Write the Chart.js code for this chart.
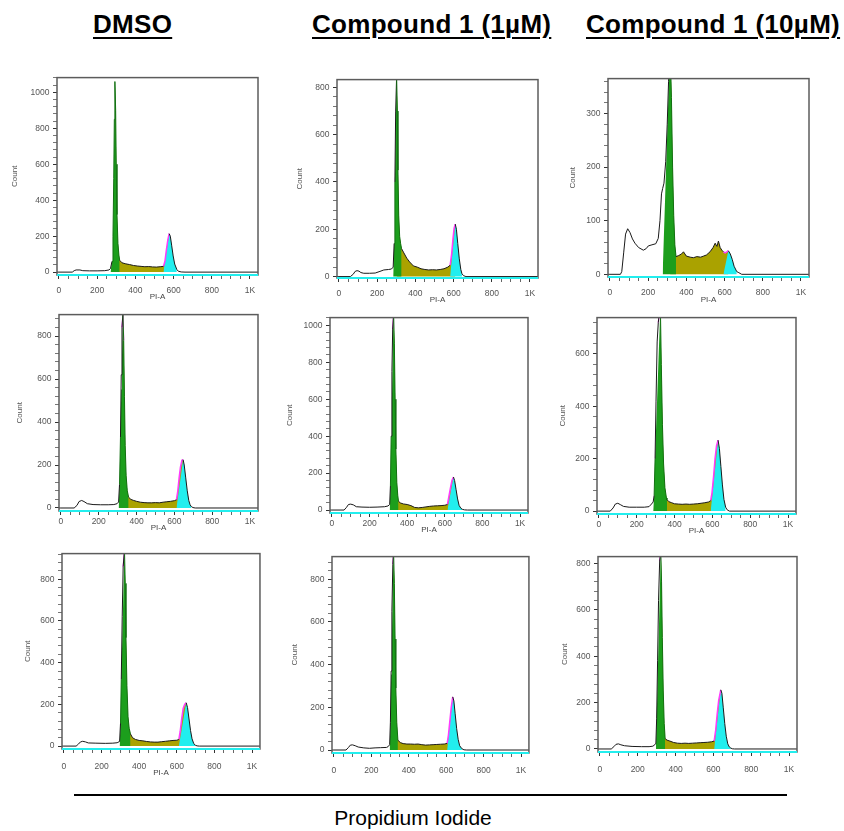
<!DOCTYPE html>
<html>
<head>
<meta charset="utf-8">
<script src="https://cdn.jsdelivr.net/npm/chart.js@4.4.1/dist/chart.umd.min.js"></script>
<style>
  body { margin: 0; background: #fff; }
  #page { position: relative; width: 844px; height: 831px; overflow: hidden; font-family: 'Liberation Sans', Arial, sans-serif; }
  .titre { position: absolute; top: 11px; font-weight: bold; font-size: 26px; line-height: 26px; white-space: nowrap; letter-spacing: 0.3px;
           text-decoration: underline; text-decoration-thickness: 2px; text-underline-offset: 4px; color: #000; }
  canvas { position: absolute; }
  #trait { position: absolute; left: 74px; top: 794px; width: 713px; height: 2px; background: #000; }
  #legende { position: absolute; left: 0; width: 826px; top: 807px; text-align: center; font-size: 21px; line-height: 21px; color: #000; }
</style>
</head>
<body>
<div id="page">
  <div id="trait"></div>
  <div id="legende">Propidium Iodide</div>
</div>
<script>
// Colonnes (conditions) et graduations de l'axe PI-A
const conditions = ['DMSO', 'Compound 1 (1µM)', 'Compound 1 (10µM)'];
const xTickValues = [0, 200, 400, 600, 800, 1000];
const xTickText = ['0', '200', '400', '600', '800', '1K'];

// Histogrammes (PI-A, Count), ligne par ligne
const dmsoR1 = [[-10,0],[0,0],[70,0],[80,8],[90,12],[110,12],[125,8],[160,7],[200,7],[240,8],[262,12],[270,20],
  [278,60],[283,200],[287,520],[290,850],[293,1060],[297,900],[300,600],[304,320],[309,160],[314,95],[318,66],
  [330,52],[350,46],[370,42],[390,37],[410,34],[430,32],[450,30],[470,31],[490,29],[510,28],[530,30],[547,32],
  [555,60],[562,120],[570,180],[577,214],[583,200],[590,150],[598,90],[606,45],[617,15],
  [625,5],[640,1],[660,0],[1042,0]];
const cpd1R1 = [[-10,0],[0,0],[60,0],[75,10],[85,22],[95,25],[105,23],[115,17],[130,14],[160,14],[190,15],[215,22],[235,28],[260,30],[275,32],[284,40],
  [289,140],[293,400],[297,700],[302,845],[306,700],[309,450],[313,260],[318,170],[323,140],[328,118],
  [340,100],[355,78],[370,62],[390,45],[410,40],[430,33],[450,30],[470,28],[490,29],[510,28],[530,30],[550,33],[570,40],[582,48],
  [590,95],[597,160],[603,205],[609,222],[615,200],[622,140],[630,75],[638,30],[644,12],
  [652,4],[665,0],[1042,0]];
const cpd10R1 = [[-10,0],[0,0],[55,0],[62,5],[72,40],[82,75],[93,85],[105,78],[118,66],[131,58],[150,50],[175,45],[190,48],[201,53],[220,55],[240,57],[253,67],[262,100],[270,150],[276,160],
  [283,170],[292,210],[300,280],[307,360],[315,430],[322,330],[328,200],[334,110],[340,55],[346,33],
  [360,35],[375,38],[385,42],[400,34],[420,32],[437,31],[455,33],[475,32],[490,34],[505,36],[524,42],[540,50],[551,58],[560,52],[568,62],[577,50],[586,45],[594,42],
  [603,40],[612,42],[620,44],[630,38],[640,28],[650,15],[664,5],
  [675,3],[690,0],[1042,0]];
const dmsoR2 = [[-10,0],[0,0],[70,0],[85,12],[96,30],[110,35],[122,30],[140,20],[170,16],[210,15],[250,15],[280,16],[297,20],[305,28],
  [310,110],[315,330],[319,620],[323,840],[328,905],[332,780],[336,520],[340,290],[345,150],[351,80],[358,50],
  [370,40],[385,35],[400,31],[420,27],[440,25],[460,24],[480,24],[500,25],[520,24],[540,27],[560,29],[580,31],[600,34],[611,38],
  [618,80],[625,140],[632,190],[640,222],[646,225],[652,200],[660,140],[668,80],[676,35],[683,15],[689,7],
  [698,2],[710,0],[1042,0]];
const cpd1R2 = [[-10,0],[0,0],[65,0],[78,15],[88,30],[100,32],[114,28],[130,18],[160,16],[200,15],[240,16],[280,18],[298,22],[307,30],
  [311,130],[315,400],[319,750],[323,980],[328,1060],[332,900],[336,600],[340,330],[345,150],[350,80],[354,47],
  [365,38],[380,33],[400,30],[420,24],[440,14],[460,12],[480,14],[500,17],[520,20],[540,22],[560,23],[580,24],[600,26],[614,30],
  [622,75],[630,120],[638,160],[646,179],[652,160],[660,110],[668,60],[676,25],[685,10],[693,4],
  [705,1],[720,0],[1042,0]];
const cpd10R2 = [[-10,0],[0,0],[60,0],[75,12],[87,27],[100,30],[113,25],[130,18],[160,15],[200,15],[240,15],[265,17],[278,27],[287,35],
  [292,60],[297,200],[302,420],[308,646],[314,720],[320,760],[325,780],[330,560],[336,330],[342,180],[349,90],[357,50],[360,44],
  [370,36],[385,32],[400,28],[420,27],[440,26],[460,27],[480,26],[500,27],[520,28],[540,30],[560,32],[580,35],[591,40],
  [598,70],[606,130],[614,200],[622,250],[630,271],[637,240],[645,170],[653,100],[661,45],[670,15],
  [678,5],[690,0],[1042,0]];
const dmsoR3 = [[-10,0],[0,0],[65,0],[78,10],[88,20],[100,23],[115,20],[130,15],[170,14],[220,13],[260,14],[283,16],[296,22],
  [301,110],[305,320],[310,620],[315,860],[322,940],[326,780],[330,520],[335,290],[341,140],[347,85],[354,58],
  [365,40],[380,32],[400,27],[420,25],[440,22],[460,20],[480,19],[500,19],[520,21],[540,23],[560,25],[580,27],[600,28],[611,32],
  [618,70],[626,130],[634,180],[642,200],[650,208],[657,185],[665,130],[673,75],[681,35],[690,12],[699,4],
  [708,1],[720,0],[1042,0]];
const cpd1R3 = [[-10,0],[0,0],[65,0],[78,12],[88,23],[100,24],[114,20],[130,14],[160,10],[190,8],[220,10],[250,11],[281,12],[290,16],[298,25],
  [302,130],[306,370],[310,650],[315,870],[319,930],[323,780],[327,520],[331,290],[336,130],[342,46],
  [355,35],[370,30],[390,28],[410,28],[430,27],[450,28],[470,25],[490,23],[510,24],[530,25],[550,26],[570,27],[590,28],[605,31],
  [612,70],[620,140],[627,200],[635,249],[641,230],[648,170],[656,100],[664,50],[672,20],[684,6],
  [695,1],[710,0],[1042,0]];
const cpd10R3 = [[-10,0],[0,0],[60,0],[74,10],[85,20],[98,22],[111,18],[130,14],[170,11],[220,10],[260,10],[280,12],[290,18],[296,25],
  [300,130],[305,380],[310,640],[316,810],[322,850],[326,720],[330,480],[335,250],[340,110],[345,45],
  [355,38],[370,34],[390,28],[410,25],[430,24],[450,25],[470,24],[490,25],[510,26],[530,27],[550,28],[570,29],[590,31],[604,34],
  [612,80],[620,150],[628,210],[639,255],[645,240],[652,180],[660,110],[668,55],[676,22],[684,9],[692,4],
  [700,1],[712,0],[1042,0]];

// Portes G1 et G2 (début, fin) de chaque histogramme
const g1Gates = [[270,318],[284,328],[276,346],[305,358],[307,354],[287,360],[296,354],[298,342],[296,345]];
const g2Gates = [[547,617],[582,644],[594,664],[611,689],[614,693],[591,670],[611,699],[605,684],[604,692]];

// Échelles Count
const yMins = [-16, -6, -5, -14, -16, -11, -14, -14, -13];
const yMaxs = [1082, 833, 365, 900, 1042, 739, 923, 906, 829];
const yMajors = [200, 200, 100, 200, 200, 200, 200, 200, 200];

const histograms = [dmsoR1, cpd1R1, cpd10R1, dmsoR2, cpd1R2, cpd10R2, dmsoR3, cpd1R3, cpd10R3];

// Mise en page : cadre de chaque graphique [gauche, haut, droite, bas]
const cadres = [[57,75,258,275],[337,77,538,278],[608,76,809,277],
                [59,312,258,511],[330,315,528,513],[597,315,796,514],
                [62,551,260,749],[332,554,529,753],[598,554,797,752]];
const decalCount = [42, 37, 35, 39, 40, 34, 34, 37, 33];
const decalTicks = [6.5, 6.5, 6.5, 1.5, 1.5, 1.5, 8.5, 8.5, 8.5];
const decalPIA = [3, 3, 2, 8, 8, 8, 1, 1, 1];
const titresX = [93, 312, 586];

const VERT = '#1c9e1c', VERT_FONCE = '#127012', OLIVE = '#aaa200', CYAN = '#22eeee', MAGENTA = '#ff3cff';
const AXE_G = 50, AXE_B = 30, PAD = 6;
const X_MIN = -10, X_MAX = 1042, X_PAS = 50;

Chart.defaults.font.family = "'Liberation Sans', Arial, sans-serif";
Chart.defaults.color = '#555';

const page = document.getElementById('page');
conditions.forEach((c, i) => {
  const d = document.createElement('div');
  d.className = 'titre';
  d.style.left = titresX[i] + 'px';
  d.textContent = c;
  page.appendChild(d);
});

const cadrePlugin = {
  id: 'cadre',
  afterDatasetsDraw(chart) {
    const { ctx, chartArea: a } = chart;
    ctx.save();
    ctx.strokeStyle = '#5c5c5c';
    ctx.lineWidth = 1.5;
    ctx.strokeRect(a.left, a.top, a.right - a.left, a.bottom - a.top);
    ctx.strokeStyle = CYAN;
    ctx.lineWidth = 2;
    ctx.beginPath();
    ctx.moveTo(a.left, a.bottom);
    ctx.lineTo(a.right, a.bottom);
    ctx.stroke();
    ctx.restore();
  }
};

// Graduations régulières à partir de 0 (majeures + mineures)
function graduations(pas, max) {
  const t = [];
  for (let v = 0; v <= max + 1e-9; v += pas) t.push({ value: v });
  return t;
}

// Partie d'un pic : montée linéaire depuis le début de la porte jusqu'au sommet
function pic(points, debut, fin) {
  const zone = points.filter(p => p[0] >= debut && p[0] <= fin);
  let sommet = zone[0];
  zone.forEach(p => { if (p[1] > sommet[1]) sommet = p; });
  const rempli = zone.map(p => {
    if (p[0] >= sommet[0]) return { x: p[0], y: p[1] };
    const rampe = sommet[1] * (p[0] - debut) / (sommet[0] - debut);
    return { x: p[0], y: Math.min(p[1], rampe) };
  });
  return { sommet, zone, rempli };
}

histograms.forEach((h, i) => {
  const [L, T, R, B] = cadres[i];
  const canvas = document.createElement('canvas');
  canvas.width = (R - L) + AXE_G + PAD;
  canvas.height = (B - T) + PAD + AXE_B;
  canvas.style.left = (L - AXE_G) + 'px';
  canvas.style.top = (T - PAD) + 'px';
  page.appendChild(canvas);

  const g1 = pic(h, g1Gates[i][0], g1Gates[i][1]);
  const g2 = pic(h, g2Gates[i][0], g2Gates[i][1]);
  const contour = h.map(p => ({ x: p[0], y: p[1] }));
  const phaseS = h.filter(p => p[0] >= g1.sommet[0] && p[0] <= g2.sommet[0]).map(p => ({ x: p[0], y: p[1] }));
  const magentaG2 = g2.zone.filter(p => p[0] <= g2.sommet[0]).map(p => ({ x: p[0], y: p[1] }));
  const magentaG1 = g1.zone.filter(p => p[1] >= 0.85 * g1.sommet[1]).map(p => ({ x: p[0], y: p[1] }));
  const debutG1 = g1Gates[i][0], finG1 = g1Gates[i][1];
  const debutG2 = g2Gates[i][0], sommetG2 = g2.sommet[0];
  // points du pic G1 où le contour dépasse le remplissage : le trait noir y reste visible
  const horsPic = new Set(g1.rempli.filter((p, k) => p.y < g1.zone[k][1]).map(p => p.x));
  const major = yMajors[i];

  const couleurContour = ctx => {
    const x0 = ctx.p0.parsed.x, x1 = ctx.p1.parsed.x;
    if (x0 >= debutG2 && x1 <= sommetG2) return 'transparent';
    if (x0 >= debutG1 && x1 <= finG1 && !horsPic.has(x0) && !horsPic.has(x1)) return VERT_FONCE;
    return undefined;
  };

  const remplissage = (data, couleur) => ({
    data, fill: 'origin', backgroundColor: couleur, borderColor: 'transparent', borderWidth: 0, pointRadius: 0, tension: 0
  });

  new Chart(canvas, {
    type: 'line',
    data: {
      datasets: [
        { data: contour, borderColor: '#1a1a1a', borderWidth: 1, pointRadius: 0, tension: 0, fill: false,
          segment: { borderColor: couleurContour } },
        { data: magentaG2, borderColor: MAGENTA, borderWidth: 1.5, pointRadius: 0, tension: 0, fill: false },
        { data: magentaG1, borderColor: MAGENTA, borderWidth: 1.2, pointRadius: 0, tension: 0, fill: false },
        remplissage(g1.rempli, VERT),
        remplissage(g2.rempli, CYAN),
        remplissage(phaseS, OLIVE)
      ]
    },
    options: {
      responsive: false,
      animation: false,
      events: [],
      layout: { padding: { top: PAD, right: PAD, left: 0, bottom: 0 } },
      plugins: { legend: { display: false }, tooltip: { enabled: false } },
      scales: {
        x: {
          type: 'linear', min: X_MIN, max: X_MAX,
          afterBuildTicks: s => { s.ticks = graduations(X_PAS, X_MAX); },
          afterFit: s => { s.height = AXE_B; },
          border: { display: false },
          grid: { drawOnChartArea: false, drawTicks: true, tickLength: 4,
                  color: ctx => (ctx.tick && xTickValues.includes(ctx.tick.value)) ? '#333' : '#666' },
          ticks: {
            autoSkip: false, maxRotation: 0, padding: decalTicks[i],
            font: { size: 8.5 }, color: '#555',
            callback: v => { const k = xTickValues.indexOf(v); return k >= 0 ? xTickText[k] : ''; }
          },
          title: { display: i < 7, text: 'PI-A', font: { size: 8 }, color: '#444', padding: { top: 0, bottom: decalPIA[i] } }
        },
        y: {
          type: 'linear', min: yMins[i], max: yMaxs[i],
          afterBuildTicks: s => { s.ticks = graduations(major / 5, yMaxs[i]); },
          afterFit: s => { s.width = AXE_G; },
          border: { display: false },
          grid: { drawOnChartArea: false, drawTicks: true, tickLength: 4,
                  color: ctx => (ctx.tick && ctx.tick.value % major === 0) ? '#333' : '#777' },
          ticks: {
            autoSkip: false, padding: 3.5,
            font: { size: 8.5 }, color: '#555',
            callback: v => (v % major === 0) ? String(v) : ''
          },
          title: { display: true, text: 'Count', font: { size: 8 }, color: '#555', padding: { top: AXE_G - 4.8 - decalCount[i], bottom: 0 } }
        }
      }
    },
    plugins: [cadrePlugin]
  });
});
</script>
</body>
</html>
